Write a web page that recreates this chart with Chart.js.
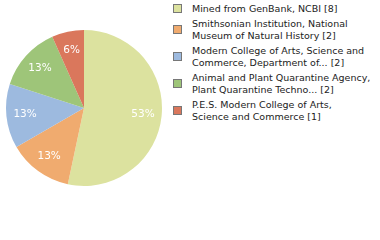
<!DOCTYPE html>
<html>
<head>
<meta charset="utf-8">
<script src="https://cdn.jsdelivr.net/npm/chart.js@4"></script>
<style>
  body { margin: 0; background: #fff; }
  #wrap { position: relative; width: 380px; height: 240px; }
  #pie { position: absolute; left: 0; top: 0; }
  #legend { position: absolute; left: 173px; top: 3px; width: 205px;
            font-family: "DejaVu Sans", sans-serif; font-size: 9.5px; line-height: 12px; color: #222; }
  .item { position: relative; padding-left: 19px; margin-bottom: 3px; }
  .box { position: absolute; left: 0; top: 50%; width: 7px; height: 7px; margin-top: -5px;
         border: 1px solid #777; }
</style>
</head>
<body>
<div id="wrap">
  <canvas id="pie" width="170" height="220"></canvas>
  <div id="legend"></div>
</div>
<script>
const categorias = [
  ['Mined from GenBank, NCBI [8]'],
  ['Smithsonian Institution, National', 'Museum of Natural History [2]'],
  ['Modern College of Arts, Science and', 'Commerce, Department of... [2]'],
  ['Animal and Plant Quarantine Agency,', 'Plant Quarantine Techno... [2]'],
  ['P.E.S. Modern College of Arts,', 'Science and Commerce [1]']
];
const valores = [8, 2, 2, 2, 1];
const cores = ['#dce29f', '#f0ab6f', '#9dbadf', '#9ec579', '#da775c'];

// legenda em HTML
const leg = document.getElementById('legend');
categorias.forEach(function (linhas, i) {
    const d = document.createElement('div');
    d.className = 'item';
    d.innerHTML = '<span class="box" style="background:' + cores[i] + '"></span>' + linhas.join('<br>');
    leg.appendChild(d);
});

const total = valores.reduce((a, b) => a + b, 0);

const rotulos = {
    id: 'rotulos',
    afterDatasetsDraw(chart) {
        const ctx = chart.ctx;
        const meta = chart.getDatasetMeta(0);
        ctx.save();
        ctx.fillStyle = '#fff';
        ctx.font = '10.5px "DejaVu Sans", sans-serif';
        ctx.textAlign = 'center';
        ctx.textBaseline = 'middle';
        meta.data.forEach(function (arc, i) {
            const p = arc.getProps(['x', 'y', 'startAngle', 'endAngle', 'outerRadius'], true);
            const a = (p.startAngle + p.endAngle) / 2;
            const r = p.outerRadius * 0.76;
            const txt = Math.floor(valores[i] * 100 / total) + '%';
            ctx.fillText(txt, p.x + Math.cos(a) * r, p.y + Math.sin(a) * r);
        });
        ctx.restore();
    }
};

const ctx = document.getElementById('pie').getContext('2d');
new Chart(ctx, {
    type: 'pie',
    data: {
        labels: categorias.map(l => l.join(' ')),
        datasets: [{
            data: valores,
            backgroundColor: cores,
            borderWidth: 0
        }]
    },
    options: {
        responsive: false,
        animation: false,
        layout: { padding: { left: 5, right: 7, top: 30, bottom: 34 } },
        plugins: {
            legend: { display: false },
            tooltip: { enabled: false }
        }
    },
    plugins: [rotulos]
});
</script>
</body>
</html>
